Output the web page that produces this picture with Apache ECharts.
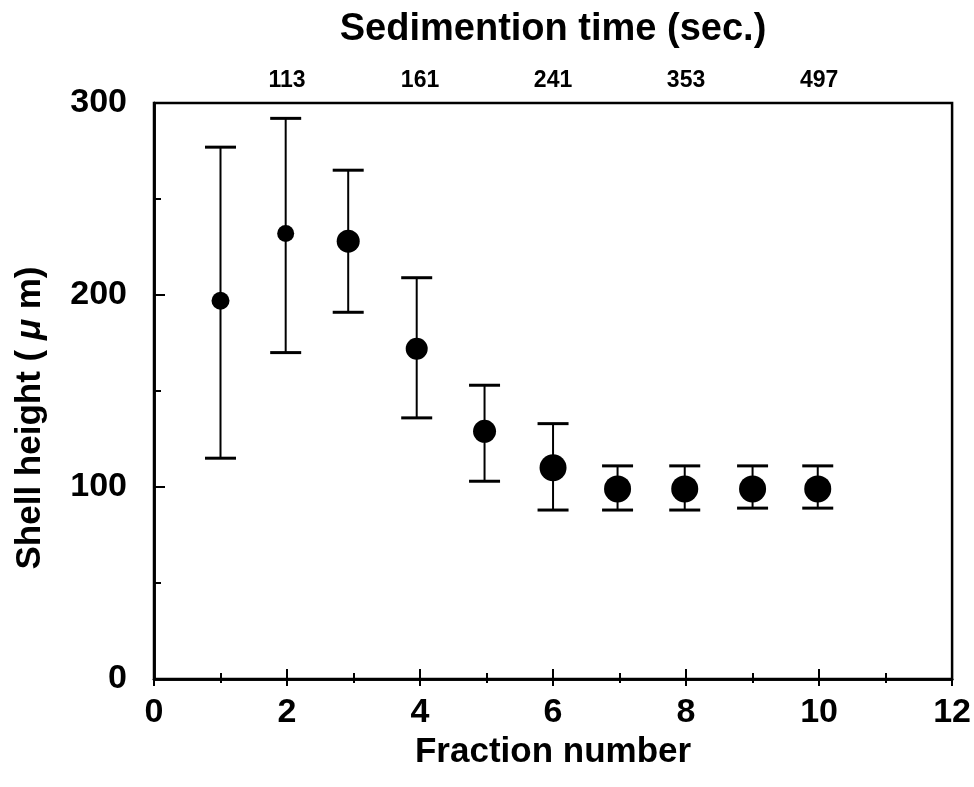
<!DOCTYPE html>
<html>
<head>
<meta charset="utf-8">
<script src="https://cdn.jsdelivr.net/npm/echarts@6/dist/echarts.min.js"></script>
<style>html,body{margin:0;padding:0;background:#fff}#c{width:974px;height:787px}</style>
</head>
<body>
<div id="c"></div>
<script>
// Data
var fractionX = [1, 1.98, 2.92, 3.95, 4.97, 6, 6.97, 7.98, 9, 9.98];
var meanHeight = [197, 232, 228, 172, 129, 110, 99, 99, 99, 99];
var upperHeight = [277, 292, 265, 209, 153, 133, 111, 111, 111, 111];
var lowerHeight = [115, 170, 191, 136, 103, 88, 88, 88, 89, 89];
var markerSizes = [18, 17, 23, 22, 23, 27, 27, 27, 27, 27];
var bottomTicks = [0, 2, 4, 6, 8, 10, 12];
var topTickPositions = [2, 4, 6, 8, 10];
var topTickLabels = ['113', '161', '241', '353', '497'];
var yTicks = [0, 100, 200, 300];

var FONT = "'Liberation Sans', Arial, Helvetica, sans-serif";
var chart = echarts.init(document.getElementById('c'), null, {renderer: 'canvas'});

var pts = fractionX.map(function (x, i) { return [x, meanHeight[i], markerSizes[i]]; });
var errs = fractionX.map(function (x, i) { return [x, lowerHeight[i], upperHeight[i]]; });

var option = {
  backgroundColor: '#fff',
  animation: false,
  grid: {left: 154, right: 21, top: 103, bottom: 108, show: true, borderColor: '#000', borderWidth: 2.5, backgroundColor: 'transparent'},
  xAxis: [{
    type: 'value', position: 'bottom', min: 0, max: 12, interval: 2,
    name: 'Fraction number', nameLocation: 'middle', nameGap: 51,
    nameTextStyle: {fontFamily: FONT, fontSize: 35, color: '#000', fontWeight: 'bold'},
    axisLine: {show: true, lineStyle: {color: '#000', width: 2.5}},
    axisTick: {show: true, inside: true, length: 10, lineStyle: {color: '#000', width: 2}},
    minorTick: {show: true, splitNumber: 2, length: 6, lineStyle: {color: '#000', width: 2}},
    splitLine: {show: false},
    axisLabel: {fontFamily: FONT, fontSize: 34, fontWeight: 'bold', color: '#000', margin: 17,
      formatter: function (v) { return bottomTicks.indexOf(v) >= 0 ? String(v) : ''; }}
  }, {
    type: 'value', position: 'top', min: 0, max: 12, interval: 2,
    name: 'Sedimention time (sec.)', nameLocation: 'middle', nameGap: 54,
    nameTextStyle: {fontFamily: FONT, fontSize: 38, color: '#000', fontWeight: 'bold'},
    axisLine: {show: true, lineStyle: {color: '#000', width: 2.5}},
    axisTick: {show: true, inside: true, length: 7, lineStyle: {color: '#000', width: 2}},
    minorTick: {show: true, splitNumber: 2, length: 4, lineStyle: {color: '#000', width: 2}},
    splitLine: {show: false},
    axisLabel: {fontFamily: FONT, fontSize: 23, fontWeight: 'bold', color: '#000', margin: 11,
      formatter: function (v) { var k = topTickPositions.indexOf(v); return k >= 0 ? topTickLabels[k] : ''; }}
  }],
  yAxis: [{
    type: 'value', position: 'left', min: 0, max: 300, interval: 100,
    name: 'Shell height ( {i|μ} m)', nameLocation: 'middle', nameGap: 106,
    nameTextStyle: {fontFamily: FONT, fontSize: 35, color: '#000', fontWeight: 'bold', padding: [0, 54, 0, 0],
      rich: {i: {fontFamily: FONT, fontSize: 35, fontStyle: 'italic', fontWeight: 'bold', color: '#000'}}},
    axisLine: {show: true, lineStyle: {color: '#000', width: 2.5}},
    axisTick: {show: true, inside: true, length: 11, lineStyle: {color: '#000', width: 2}},
    minorTick: {show: true, splitNumber: 2, length: 7, lineStyle: {color: '#000', width: 2}},
    splitLine: {show: false},
    axisLabel: {fontFamily: FONT, fontSize: 34, fontWeight: 'bold', color: '#000', margin: 27,
      formatter: function (v) { return yTicks.indexOf(v) >= 0 ? String(v) : ''; }}
  }, {
    type: 'value', position: 'right', min: 0, max: 300, interval: 100,
    axisLine: {show: true, lineStyle: {color: '#000', width: 2.5}},
    axisTick: {show: false}, axisLabel: {show: false}, splitLine: {show: false}
  }],
  series: [{
    type: 'custom',
    xAxisIndex: 0, yAxisIndex: 0,
    data: errs,
    renderItem: function (params, api) {
      var x = api.value(0);
      var lo = api.coord([x, api.value(1)]);
      var hi = api.coord([x, api.value(2)]);
      var hw = 15.5;
      return {
        type: 'group',
        children: [
          {type: 'line', shape: {x1: lo[0], y1: lo[1], x2: hi[0], y2: hi[1]}, style: {stroke: '#000', lineWidth: 2}},
          {type: 'line', shape: {x1: lo[0] - hw, y1: lo[1], x2: lo[0] + hw, y2: lo[1]}, style: {stroke: '#000', lineWidth: 3}},
          {type: 'line', shape: {x1: hi[0] - hw, y1: hi[1], x2: hi[0] + hw, y2: hi[1]}, style: {stroke: '#000', lineWidth: 3}}
        ]
      };
    },
    z: 2
  }, {
    type: 'scatter',
    xAxisIndex: 0, yAxisIndex: 0,
    data: pts,
    symbol: 'circle',
    symbolSize: function (d) { return d[2]; },
    itemStyle: {color: '#000', opacity: 1},
    z: 3
  }]
};
chart.setOption(option);
</script>
</body>
</html>
